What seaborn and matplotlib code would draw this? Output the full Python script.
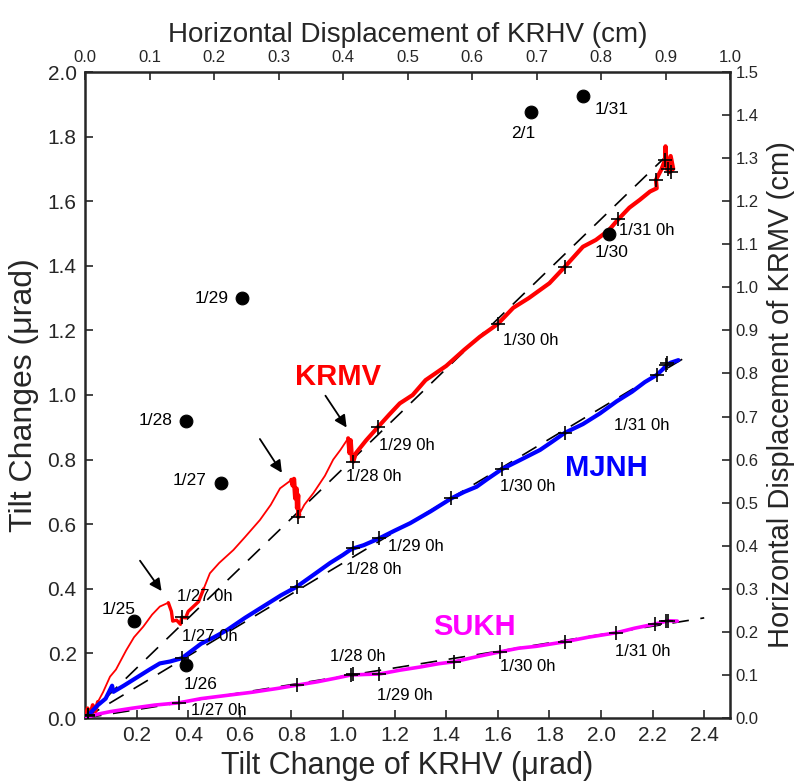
import numpy as np
import pandas as pd
import matplotlib
matplotlib.use("Agg")
import matplotlib.pyplot as plt
import seaborn as sns

sns.set_style("ticks")
plt.rcParams['font.family'] = ['Liberation Sans', 'DejaVu Sans']

# ---------------- data (tilt in microradians) ----------------
krmv_x = [0.00, 0.01, 0.02, 0.03, 0.04, 0.05, 0.07, 0.097, 0.12, 0.16, 0.19, 0.226, 0.26, 0.29, 0.323,
          0.335, 0.34, 0.355, 0.37, 0.375, 0.39, 0.40, 0.42, 0.44, 0.46, 0.484, 0.52, 0.575, 0.62, 0.678,
          0.72, 0.756, 0.80, 0.805, 0.81, 0.815, 0.82, 0.822, 0.826, 0.827, 0.83, 0.85, 0.885, 0.93, 0.962,
          0.99, 1.02, 1.025, 1.03, 1.035, 1.04, 1.05, 1.07, 1.09, 1.137, 1.18, 1.22, 1.27, 1.32, 1.40,
          1.47, 1.53, 1.60, 1.66, 1.72, 1.80, 1.86, 1.93, 1.98, 2.03, 2.067, 2.11, 2.15, 2.19, 2.216,
          2.213, 2.235, 2.248, 2.25, 2.255, 2.27, 2.28, 2.265, 2.27]
krmv_y = [0.00, 0.03, 0.01, 0.04, 0.02, 0.05, 0.08, 0.128, 0.15, 0.21, 0.25, 0.283, 0.32, 0.345, 0.357,
          0.33, 0.30, 0.303, 0.29, 0.312, 0.31, 0.33, 0.345, 0.36, 0.40, 0.448, 0.48, 0.52, 0.56, 0.613,
          0.66, 0.711, 0.737, 0.72, 0.74, 0.68, 0.71, 0.65, 0.69, 0.623, 0.63, 0.66, 0.696, 0.75, 0.80,
          0.83, 0.866, 0.82, 0.86, 0.80, 0.794, 0.82, 0.84, 0.86, 0.902, 0.94, 0.974, 1.00, 1.046, 1.09,
          1.14, 1.18, 1.22, 1.27, 1.30, 1.346, 1.397, 1.459, 1.48, 1.51, 1.544, 1.58, 1.604, 1.63, 1.64,
          1.666, 1.70, 1.728, 1.77, 1.70, 1.74, 1.70, 1.69, 1.72]
krmv_cross_x = [0.01, 0.375, 0.827, 1.04, 1.137, 1.60, 1.86, 2.067, 2.213, 2.248, 2.26, 2.27]
krmv_cross_y = [0.01, 0.312, 0.623, 0.794, 0.902, 1.22, 1.397, 1.544, 1.666, 1.728, 1.70, 1.69]

mjnh_x = [0.00, 0.02, 0.05, 0.08, 0.105, 0.11, 0.15, 0.20, 0.25, 0.29, 0.33, 0.375, 0.40, 0.45, 0.50,
          0.55, 0.62, 0.70, 0.76, 0.82, 0.88, 0.95, 1.00, 1.027, 1.04, 1.08, 1.14, 1.20, 1.26, 1.34,
          1.42, 1.47, 1.518, 1.56, 1.615, 1.69, 1.764, 1.81, 1.86, 1.93, 1.996, 2.06, 2.12, 2.17, 2.216,
          2.24, 2.255, 2.27, 2.30]
mjnh_y = [0.00, 0.015, 0.04, 0.06, 0.10, 0.081, 0.10, 0.125, 0.15, 0.169, 0.175, 0.185, 0.20, 0.23, 0.25,
          0.272, 0.31, 0.35, 0.38, 0.406, 0.44, 0.48, 0.505, 0.52, 0.525, 0.535, 0.556, 0.58, 0.603, 0.64,
          0.68, 0.70, 0.716, 0.74, 0.77, 0.80, 0.83, 0.855, 0.883, 0.91, 0.943, 0.98, 1.01, 1.04, 1.062,
          1.08, 1.093, 1.10, 1.108]
mjnh_cross_x = [0.01, 0.375, 0.82, 1.04, 1.14, 1.42, 1.615, 1.86, 2.216, 2.25, 2.255]
mjnh_cross_y = [0.01, 0.185, 0.406, 0.525, 0.556, 0.68, 0.77, 0.883, 1.062, 1.093, 1.10]

sukh_x = [0.00, 0.05, 0.10, 0.18, 0.27, 0.364, 0.45, 0.55, 0.65, 0.75, 0.823, 0.90, 0.97, 1.03, 1.09,
          1.14, 1.22, 1.30, 1.37, 1.43, 1.52, 1.61, 1.68, 1.75, 1.86, 1.95, 2.06, 2.13, 2.21, 2.26, 2.296]
sukh_y = [0.00, 0.012, 0.02, 0.03, 0.04, 0.047, 0.06, 0.07, 0.08, 0.092, 0.102, 0.112, 0.123, 0.133, 0.135,
          0.136, 0.148, 0.158, 0.168, 0.174, 0.19, 0.205, 0.216, 0.222, 0.236, 0.25, 0.264, 0.278, 0.291, 0.301, 0.30]
sukh_cross_x = [0.01, 0.364, 0.823, 1.03, 1.04, 1.14, 1.43, 1.61, 1.86, 2.06, 2.21, 2.25, 2.26]
sukh_cross_y = [0.005, 0.047, 0.102, 0.133, 0.135, 0.136, 0.174, 0.205, 0.236, 0.264, 0.291, 0.30, 0.30]

# regression (dashed) line endpoints
fit_krmv_x = [0.0, 2.27]
fit_krmv_y = [0.0, 1.753]
fit_mjnh_x = [0.0, 2.33]
fit_mjnh_y = [0.0, 1.118]
fit_sukh_x = [0.0, 2.40]
fit_sukh_y = [0.0, 0.31]

# daily dots
dot_labels = ["1/25", "1/26", "1/27", "1/28", "1/29", "1/30", "1/31", "2/1"]
dot_x = [0.19, 0.39, 0.526, 0.39, 0.607, 2.03, 1.93, 1.73]
dot_y = [0.30, 0.165, 0.728, 0.92, 1.30, 1.50, 1.925, 1.877]
dot_label_x = [0.13, 0.446, 0.405, 0.272, 0.49, 2.04, 2.04, 1.70]
dot_label_y = [0.335, 0.105, 0.735, 0.92, 1.30, 1.44, 1.885, 1.81]

# hour annotations
ann_text = ["1/27 0h", "1/28 0h", "1/29 0h", "1/30 0h", "1/31 0h",
            "1/27 0h", "1/28 0h", "1/29 0h", "1/30 0h", "1/31 0h",
            "1/27 0h", "1/28 0h", "1/29 0h", "1/30 0h", "1/31 0h"]
ann_x = [0.358, 1.01, 1.14, 1.62, 2.07,
         0.375, 1.01, 1.175, 1.61, 2.05,
         0.41, 0.95, 1.13, 1.61, 2.056]
ann_y = [0.376, 0.747, 0.845, 1.17, 1.51,
         0.252, 0.46, 0.53, 0.716, 0.905,
         0.023, 0.19, 0.069, 0.159, 0.205]

station_names = ["KRMV", "MJNH", "SUKH"]
station_colors = ["#ff0000", "#0000ff", "#ff00ff"]
station_lx = [0.814, 1.86, 1.35]
station_ly = [1.057, 0.775, 0.283]

arrow_from = [(0.207, 0.494), (0.672, 0.871), (0.926, 1.005)]
arrow_to = [(0.303, 0.386), (0.769, 0.752), (1.02, 0.892)]

# ---------------- figure ----------------
fig = plt.figure(figsize=(8.06, 7.83), dpi=100)
ax = fig.add_axes([85 / 806, 65 / 783, 645 / 806, 646 / 783])

# dashed fits
for fx, fy in [(fit_krmv_x, fit_krmv_y), (fit_mjnh_x, fit_mjnh_y), (fit_sukh_x, fit_sukh_y)]:
    sns.lineplot(x=fx, y=fy, ax=ax, color="black", lw=1.2, sort=False, estimator=None,
                 linestyle=(0, (10, 7)), zorder=2)

# station traces (noisy stretches drawn heavier)
sns.lineplot(x=krmv_x, y=krmv_y, ax=ax, color="#ff0000", lw=1.3, sort=False, estimator=None, zorder=3)
sns.lineplot(x=krmv_x[0:6], y=krmv_y[0:6], ax=ax, color="#ff0000", lw=2.8, sort=False, estimator=None, zorder=3)
sns.lineplot(x=krmv_x[14:25], y=krmv_y[14:25], ax=ax, color="#ff0000", lw=2.4, sort=False, estimator=None, zorder=3)
sns.lineplot(x=krmv_x[32:41], y=krmv_y[32:41], ax=ax, color="#ff0000", lw=3.2, sort=False, estimator=None, zorder=3)
sns.lineplot(x=krmv_x[46:], y=krmv_y[46:], ax=ax, color="#ff0000", lw=3.0, sort=False, estimator=None, zorder=3)
sns.lineplot(x=mjnh_x, y=mjnh_y, ax=ax, color="#0000ff", lw=3.0, sort=False, estimator=None, zorder=3)
sns.lineplot(x=sukh_x, y=sukh_y, ax=ax, color="#ff00ff", lw=2.6, sort=False, estimator=None, zorder=3)

# hourly crosses
for cx, cy in [(krmv_cross_x, krmv_cross_y), (mjnh_cross_x, mjnh_cross_y), (sukh_cross_x, sukh_cross_y)]:
    sns.scatterplot(x=cx, y=cy, ax=ax, marker="+", color="black", s=90, linewidth=1.2, zorder=4)

# daily dots
sns.scatterplot(x=dot_x, y=dot_y, ax=ax, color="black", s=85, edgecolor="black", zorder=5)
for t, lx, ly in zip(dot_labels, dot_label_x, dot_label_y):
    ax.text(lx, ly, t, fontsize=12.5, ha="center", va="center", color="black")

for t, lx, ly in zip(ann_text, ann_x, ann_y):
    ax.text(lx, ly, t, fontsize=12, ha="left", va="center", color="black")

for t, c, lx, ly in zip(station_names, station_colors, station_lx, station_ly):
    ax.text(lx, ly, t, fontsize=21, fontweight="bold", color=c, ha="left", va="center")

for a0, a1 in zip(arrow_from, arrow_to):
    ax.annotate("", xy=a1, xytext=a0,
                arrowprops=dict(arrowstyle="-|>", color="black", lw=1.3, mutation_scale=18))

# axes
ax.set_xlim(0, 2.5)
ax.set_ylim(0, 2.0)
ax.set_xticks(np.arange(0.2, 2.41, 0.2))
ax.set_xticklabels([f"{v:.1f}" for v in np.arange(0.2, 2.41, 0.2)])
ax.set_yticks(np.arange(0, 2.01, 0.2))
ax.set_yticklabels([f"{v:.1f}" for v in np.arange(0, 2.01, 0.2)])
ax.tick_params(axis="both", direction="in", length=6, width=1.2, labelsize=15, pad=6)
for s in ax.spines.values():
    s.set_linewidth(1.8)
    s.set_visible(True)
ax.set_xlabel("Tilt Change of KRHV (μrad)", fontsize=22, labelpad=4)
ax.set_ylabel("Tilt Changes (μrad)", fontsize=23, labelpad=6)

top = ax.secondary_xaxis("top", functions=(lambda x: x * 0.4, lambda x: x / 0.4))
top.set_xticks(np.arange(0, 1.01, 0.1))
top.set_xticklabels([f"{v:.1f}" for v in np.arange(0, 1.01, 0.1)])
top.tick_params(direction="in", length=6, width=1.2, labelsize=12, pad=5)
top.set_xlabel("Horizontal Displacement of KRHV (cm)", fontsize=20, labelpad=6)

right = ax.secondary_yaxis("right", functions=(lambda y: y * 0.75, lambda y: y / 0.75))
right.set_yticks(np.arange(0, 1.51, 0.1))
right.set_yticklabels([f"{v:.1f}" for v in np.arange(0, 1.51, 0.1)])
right.tick_params(direction="in", length=6, width=1.2, labelsize=12, pad=4)
right.set_ylabel("Horizontal Displacement of KRMV (cm)", fontsize=21, labelpad=6)

fig.savefig("out.png", dpi=100)
